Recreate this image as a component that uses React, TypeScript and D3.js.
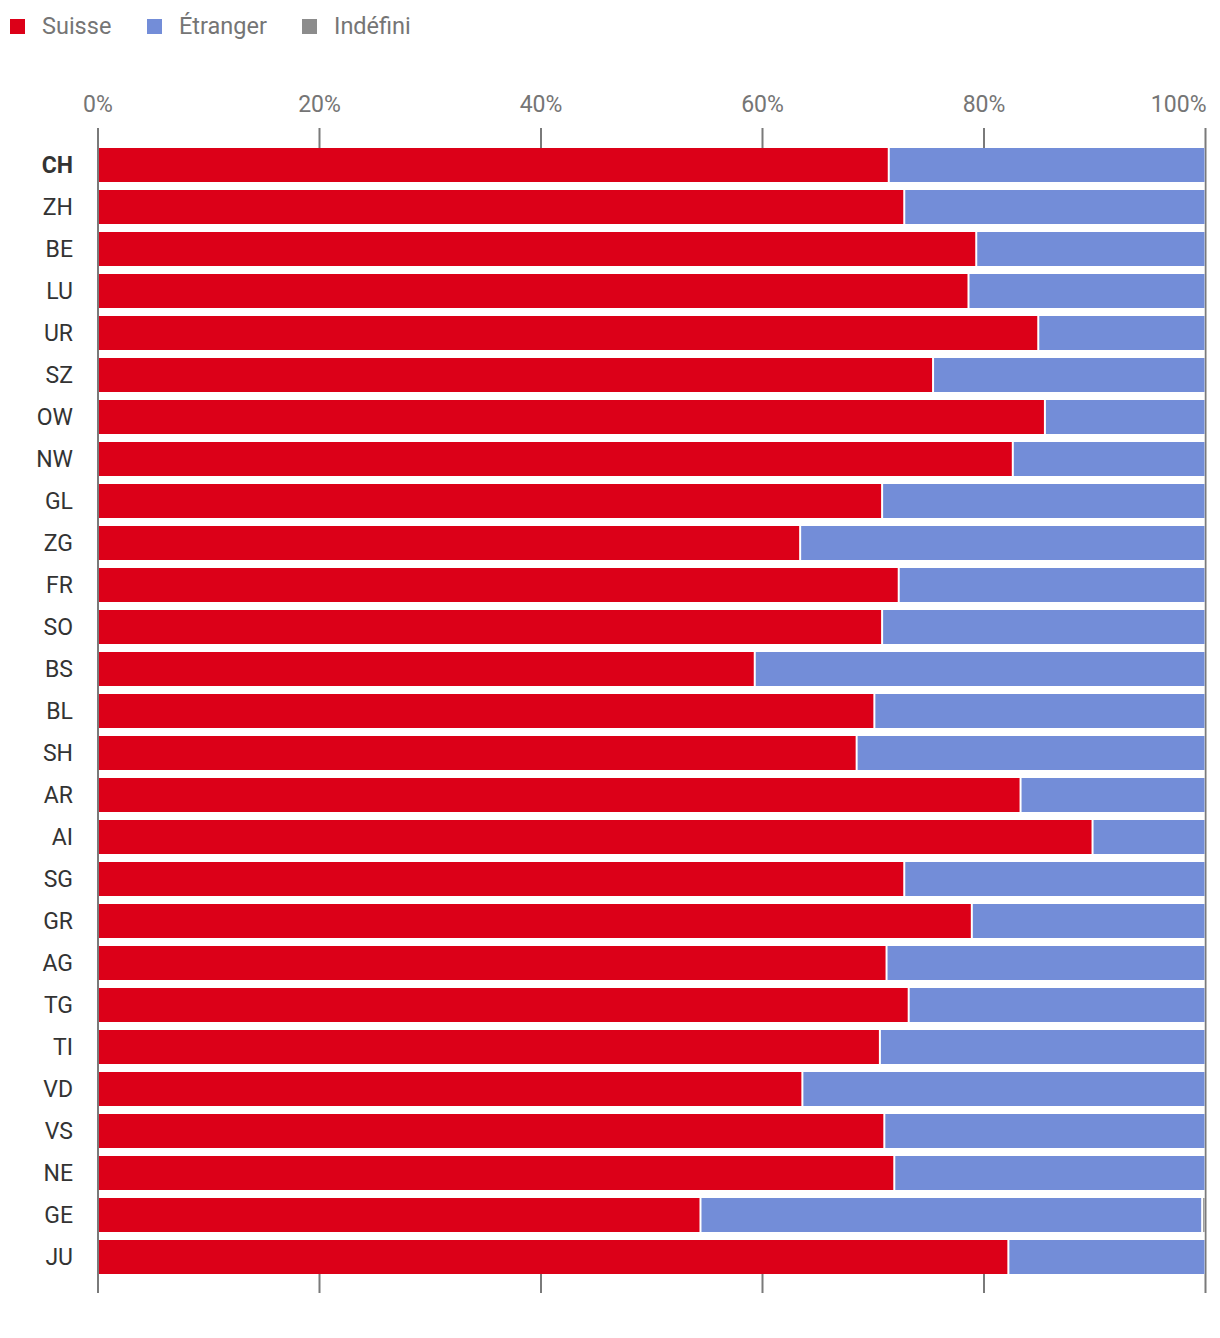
import React from "react";
import * as d3 from "d3";

const cantons = ["CH","ZH","BE","LU","UR","SZ","OW","NW","GL","ZG","FR","SO","BS","BL","SH","AR","AI","SG","GR","AG","TG","TI","VD","VS","NE","GE","JU"];
const suisse = [71.4,72.8,79.3,78.6,84.9,75.4,85.5,82.6,70.8,63.4,72.3,70.8,59.3,70.1,68.5,83.3,89.8,72.8,78.9,71.2,73.2,70.6,63.6,71.0,71.9,54.4,82.2];
const indefini = [0,0,0,0,0,0,0,0,0,0,0,0,0,0,0,0,0,0,0,0,0,0,0,0,0,0.3,0];
const etranger = suisse.map((s, i) => 100 - s - indefini[i]);
const seriesNames = ["Suisse", "Étranger", "Indéfini"];
const seriesColors = ["#dc0018", "#738dd8", "#8c8c8c"];
const tickValues = [0, 20, 40, 60, 80, 100];

export default function App() {
  const W = 1220, H = 1330;
  const x = d3.scaleLinear().domain([0, 100]).range([98, 1205.5]);
  const y = d3.scaleBand<string>().domain(cantons).range([144, 144 + 27 * 42]).paddingInner(8 / 42).paddingOuter(4 / 42);
  const font = "Roboto, 'Noto Sans', sans-serif";
  const rows = cantons.map((c, i) => {
    const vals = [suisse[i], etranger[i], indefini[i]];
    let acc = 0;
    return vals.map((v, k) => {
      const a = acc; acc += v;
      return { c, k, a, b: acc, v };
    });
  });
  const firstTop = y(cantons[0]) as number;
  const lastBottom = (y(cantons[cantons.length - 1]) as number) + y.bandwidth();
  return (
    <svg width={W} height={H} style={{ display: "block", margin: "-8px 0 0 -8px" }} fontFamily={font}>
      {seriesNames.map((n, i) => {
        const lx = [10, 147, 302][i];
        return (
          <g key={n}>
            <rect x={lx} y={19} width={15} height={15} fill={seriesColors[i]} />
            <text x={lx + 32} y={34} fontSize={23.5} fill="#757575">{n}</text>
          </g>
        );
      })}
      {tickValues.map((t, i) => (
        <g key={t}>
          <line x1={x(t)} x2={x(t)} y1={128} y2={1293} stroke="#7a7a7a" strokeWidth={2} />
          <text x={i === tickValues.length - 1 ? x(t) + 1 : x(t)} y={112} fontSize={23} fill="#757575"
            textAnchor={i === tickValues.length - 1 ? "end" : "middle"}>{t}%</text>
        </g>
      ))}
      <rect x={x(0) + 1} y={firstTop} width={x(100) - x(0) - 2} height={lastBottom - firstTop} fill="#fff" />
      {rows.map((segs, i) => (
        <g key={cantons[i]}>
          {segs.filter(s => s.v > 0).map(s => (
            <rect key={s.k} x={x(s.a) + 1} y={y(s.c)} width={Math.max(0, x(s.b) - x(s.a) - 2)} height={y.bandwidth()} fill={seriesColors[s.k]} />
          ))}
          <text x={73} y={(y(cantons[i]) as number) + y.bandwidth() / 2 + 8} textAnchor="end" fontSize={23}
            fontWeight={i === 0 ? "bold" : "normal"} fill="#333">{cantons[i]}</text>
        </g>
      ))}
    </svg>
  );
}
